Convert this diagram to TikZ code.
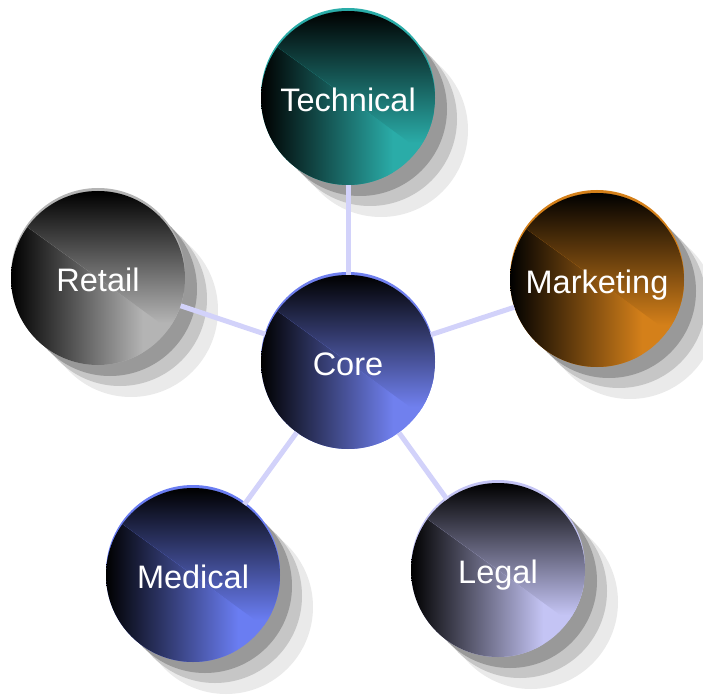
\documentclass[tikz,border=0pt]{standalone}
\usepackage{fontspec}
\setmainfont{Liberation Sans}
\usetikzlibrary{shadows}

\definecolor{techteal}{HTML}{2AACA8}
\definecolor{mktorange}{HTML}{D4801A}
\definecolor{retailgray}{HTML}{B4B4B4}
\definecolor{coreblue}{HTML}{7080EE}
\definecolor{medblue}{HTML}{6A7DF2}
\definecolor{legallilac}{HTML}{C4C4F4}
\definecolor{linklilac}{HTML}{D2D2FA}
\definecolor{shadedark}{HTML}{999999}
\definecolor{shademid}{HTML}{C6C6C6}
\definecolor{shadelight}{HTML}{EAEAEA}

\tikzset{
  shadowed/.style={
    general shadow={fill=shadelight, shadow xshift=33pt, shadow yshift=-32pt},
    general shadow={fill=shademid, shadow xshift=22pt, shadow yshift=-21pt},
    general shadow={fill=shadedark, shadow xshift=12pt, shadow yshift=-11pt}},
  ball/.style={circle, minimum size=174pt, inner sep=0pt, text=white,
    font=\fontsize{32.5}{39}\selectfont, text height=27.3pt, text depth=0pt,
    general shadow={fill=#1, shadow yshift=3pt},
    path picture={
      \fill[#1] (path picture bounding box.south west) rectangle (path picture bounding box.north east);
      \shade[left color=black, right color=#1]
        (path picture bounding box.south west) rectangle ++(132pt,180pt);
      \begin{scope}
        \clip (path picture bounding box.center) ++(-90pt,65pt) -- ++(0,30pt)
          -- ++(180pt,0) -- ++(0,-160pt) -- cycle;
        \fill[#1] (path picture bounding box.south west) rectangle (path picture bounding box.north east);
        \shade[top color=black, bottom color=#1]
          (path picture bounding box.north west) rectangle ++(180pt,-132pt);
      \end{scope}}},
  link/.style={draw=linklilac, line width=5pt}
}

\begin{document}
\begin{tikzpicture}[x=1pt,y=1pt]
    \useasboundingbox (0,0) rectangle (703,697);
    %%balls
    \node[ball=coreblue] (core) at (348,335) {Core};
    \node[shadowed, ball=techteal] (tech) at (348,599) {Technical};
    \node[shadowed, ball=mktorange] (mkt) at (597,417) {Marketing};
    \node[shadowed, ball=retailgray] (retail) at (98,419) {Retail};
    \node[shadowed, ball=medblue] (med) at (193,122) {Medical};
    \node[shadowed, ball=legallilac] (legal) at (498,127) {Legal};
    %%links
    \draw[link] (core) -- (tech);
    \draw[link] (core) -- (mkt);
    \draw[link] (core) -- (retail);
    \draw[link] (core) -- (med);
    \draw[link] (core) -- (legal);
\end{tikzpicture}
\end{document}
